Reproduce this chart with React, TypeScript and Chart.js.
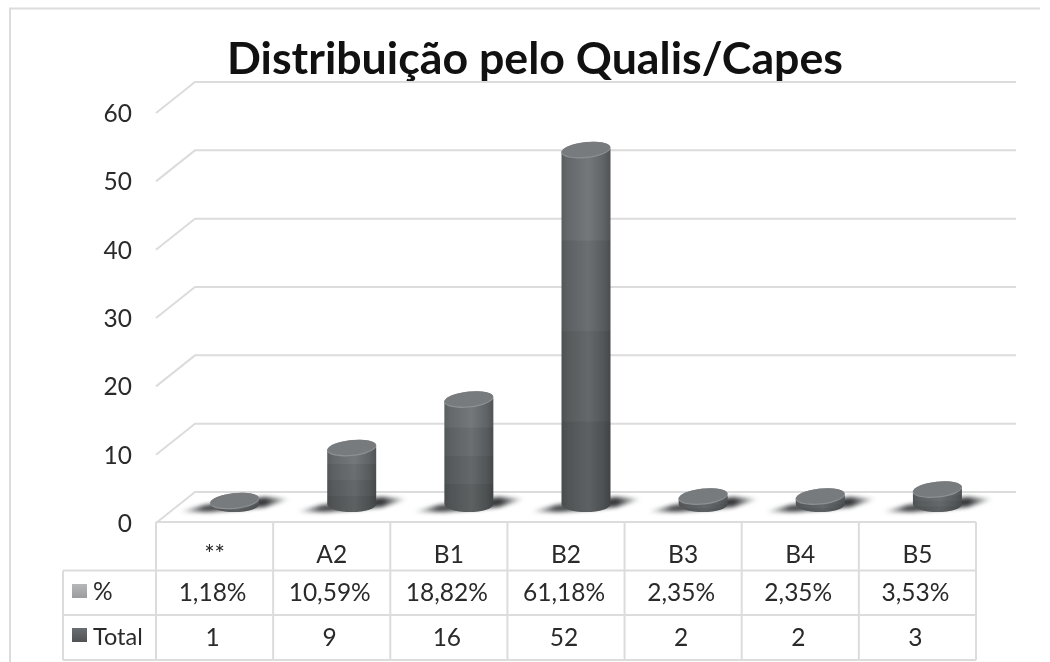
import React, { useEffect, useRef } from "react";
import { Chart, BarController, BarElement, CategoryScale, LinearScale, Title } from "chart.js";

const chartTitle = "Distribuição pelo Qualis/Capes";
const categories = ["**", "A2", "B1", "B2", "B3", "B4", "B5"];
const totals = [1, 9, 16, 52, 2, 2, 3];
const percentLabels = ["1,18%", "10,59%", "18,82%", "61,18%", "2,35%", "2,35%", "3,53%"];
const yMax = 60;
const yStep = 10;

const FONT = "Lato, Carlito, sans-serif";
const LINE = "#dcdcdc";
const TEXT = "#2a2a2a";
const DEPTH_X = 20;
const BACK_X = 39;
const BACK_Y = 32;
const WALL_RIGHT = 1016;

class CylinderElement extends BarElement {
  static id = "cylinder";
  draw(ctx: CanvasRenderingContext2D) {
    const { x, y, base, width } = (this as any).getProps(["x", "y", "base", "width"]);
    const cx = x + DEPTH_X;
    const rx = width / 2;
    const ry = 8;
    const baseY = base - 6.4;
    const L = cx - rx;
    const R = cx + rx;
    const tilt = (-6 * Math.PI) / 180;

    // floor shadow
    ctx.save();
    ctx.filter = "blur(2px)";
    const sh = ctx.createLinearGradient(cx - 56, 0, cx + 56, 0);
    sh.addColorStop(0, "rgba(55,57,59,0)");
    sh.addColorStop(0.22, "rgba(55,57,59,0.9)");
    sh.addColorStop(0.78, "rgba(55,57,59,1)");
    sh.addColorStop(1, "rgba(55,57,59,0)");
    ctx.fillStyle = sh;
    ctx.beginPath();
    ctx.moveTo(cx - 56, baseY + 8);
    ctx.lineTo(cx - 30, baseY + 1);
    ctx.lineTo(cx + 30, baseY - 7);
    ctx.lineTo(cx + 56, baseY - 5);
    ctx.lineTo(cx + 30, baseY + 3);
    ctx.lineTo(cx - 25, baseY + 8);
    ctx.closePath();
    ctx.fill();
    ctx.restore();

    // body
    const top = Math.min(y, baseY - 3);
    ctx.save();
    ctx.beginPath();
    ctx.moveTo(L, top + 1);
    ctx.lineTo(L, baseY);
    ctx.ellipse(cx, baseY, rx, ry, 0, Math.PI, 0, true);
    ctx.lineTo(R, top - 1);
    ctx.closePath();
    const g = ctx.createLinearGradient(L, 0, R, 0);
    g.addColorStop(0, "#5a5e60");
    g.addColorStop(0.12, "#64686a");
    g.addColorStop(0.55, "#74787a");
    g.addColorStop(0.85, "#606466");
    g.addColorStop(1, "#505456");
    ctx.fillStyle = g;
    ctx.fill();
    ctx.clip();
    const bodyBottom = baseY + ry;
    const band = (bodyBottom - top) / 4;
    [0, 0.07, 0.13, 0.19].forEach((a, i) => {
      ctx.fillStyle = `rgba(0,0,0,${a})`;
      ctx.fillRect(L, top + i * band, width, band + (i === 3 ? 1 : 0));
    });
    ctx.restore();

    // top cap
    ctx.save();
    ctx.beginPath();
    ctx.ellipse(cx, top, rx + 0.3, ry, tilt, 0, Math.PI * 2);
    ctx.fillStyle = "#8d9092";
    ctx.fill();
    ctx.beginPath();
    ctx.ellipse(cx, top - 0.6, rx - 0.2, ry - 0.7, tilt, 0, Math.PI * 2);
    ctx.fillStyle = "#777b7d";
    ctx.fill();
    ctx.restore();
  }
}

class CylinderController extends BarController {
  static id = "cylinder";
  static defaults = { ...(BarController as any).defaults, dataElementType: "cylinder" };
  static overrides = (BarController as any).overrides;
}

Chart.register(CylinderController as any, CylinderElement as any, CategoryScale, LinearScale, Title);

const framePlugin = {
  id: "frameAndTable",
  beforeDatasetsDraw(chart: any) {
    const { ctx, scales } = chart;
    const x = scales.x;
    const y = scales.y;
    const colW = x.getPixelForTick(1) - x.getPixelForTick(0);
    const left = x.left;
    const right = x.right;
    const rows = [y.bottom - 2, 570.5, 615, 660];
    const legendLeft = 63;
    ctx.save();
    ctx.strokeStyle = LINE;
    ctx.lineWidth = 2;

    // outer frame
    ctx.beginPath();
    ctx.moveTo(10, 664);
    ctx.lineTo(10, 8.5);
    ctx.lineTo(1040, 8.5);
    ctx.stroke();

    // back wall and side wall lines
    for (let v = 0; v <= yMax; v += yStep) {
      const py = y.getPixelForValue(v);
      ctx.beginPath();
      ctx.moveTo(left, py - 1);
      ctx.lineTo(left + BACK_X, py - BACK_Y);
      ctx.lineTo(WALL_RIGHT, py - BACK_Y);
      ctx.stroke();
    }

    // table
    ctx.beginPath();
    ctx.moveTo(left, rows[0]);
    ctx.lineTo(right, rows[0]);
    for (let r = 1; r < rows.length; r++) {
      ctx.moveTo(legendLeft, rows[r]);
      ctx.lineTo(right, rows[r]);
    }
    ctx.moveTo(legendLeft, rows[1]);
    ctx.lineTo(legendLeft, rows[3]);
    for (let i = 0; i <= categories.length; i++) {
      const cx = left + i * colW;
      ctx.moveTo(cx, rows[0]);
      ctx.lineTo(cx, rows[3]);
    }
    ctx.stroke();

    ctx.fillStyle = TEXT;
    ctx.font = `24.5px ${FONT}`;
    ctx.textAlign = "center";
    ctx.textBaseline = "middle";
    const rowY1 = (rows[1] + rows[2]) / 2 + 0.5;
    const rowY2 = (rows[2] + rows[3]) / 2 + 0.5;
    categories.forEach((_, i) => {
      const cx = x.getPixelForTick(i) - 2;
      ctx.fillText(percentLabels[i], cx, rowY1);
      ctx.fillText(String(totals[i]), cx, rowY2);
    });

    // row keys
    ctx.textAlign = "left";
    const sw1 = ctx.createLinearGradient(0, 584, 0, 598);
    sw1.addColorStop(0, "#b5b7b8");
    sw1.addColorStop(1, "#9a9c9d");
    ctx.fillStyle = sw1;
    ctx.fillRect(72, 584, 15, 14);
    const sw2 = ctx.createLinearGradient(0, 628, 0, 642);
    sw2.addColorStop(0, "#6a6e70");
    sw2.addColorStop(1, "#4f5355");
    ctx.fillStyle = sw2;
    ctx.fillRect(72, 628, 15, 14);
    ctx.fillStyle = TEXT;
    ctx.fillText("%", 93, rowY1 - 1);
    ctx.font = `23.5px ${FONT}`;
    ctx.fillText("Total", 93, rowY2 - 1);
    ctx.restore();
  },
};

export default function App() {
  const ref = useRef<HTMLCanvasElement>(null);
  useEffect(() => {
    if (!ref.current) return;
    const chart = new Chart(ref.current, {
      type: "cylinder" as any,
      data: {
        labels: categories,
        datasets: [
          {
            label: "Total",
            data: totals,
            yAxisID: "yBar",
            barThickness: 49,
            backgroundColor: "#63676a",
            clip: false,
          } as any,
        ],
      },
      options: {
        animation: false,
        responsive: false,
        layout: { padding: { left: 94, right: 74, top: 33, bottom: 0 } },
        plugins: {
          legend: { display: false },
          tooltip: { enabled: false },
          title: {
            display: true,
            text: chartTitle,
            color: "#111111",
            font: { family: FONT, size: 44.7, weight: "bold", lineHeight: 1.2 },
            padding: { top: 0, bottom: 27.4 },
          },
        },
        scales: {
          x: {
            grid: { display: false, drawTicks: false },
            border: { display: false },
            ticks: { color: TEXT, font: { family: FONT, size: 24.5 }, padding: 16, maxRotation: 0 },
            afterFit: (s: any) => { s.height = 138; },
          },
          y: {
            min: 0,
            max: yMax,
            grid: { display: false, drawTicks: false },
            border: { display: false },
            ticks: { stepSize: yStep, color: TEXT, font: { family: FONT, size: 24.5 }, padding: 24 },
            afterFit: (s: any) => { s.width = 62; },
          },
          yBar: {
            display: false,
            min: -1.962,
            max: 57.2,
          },
        },
      } as any,
      plugins: [framePlugin],
    });
    return () => chart.destroy();
  }, []);
  return (
    <div style={{ position: "fixed", left: 0, top: 0, width: 1050, height: 662, background: "#fff", overflow: "hidden" }}>
      <canvas ref={ref} width={1050} height={662} style={{ display: "block", filter: "blur(0.4px)" }} />
    </div>
  );
}
